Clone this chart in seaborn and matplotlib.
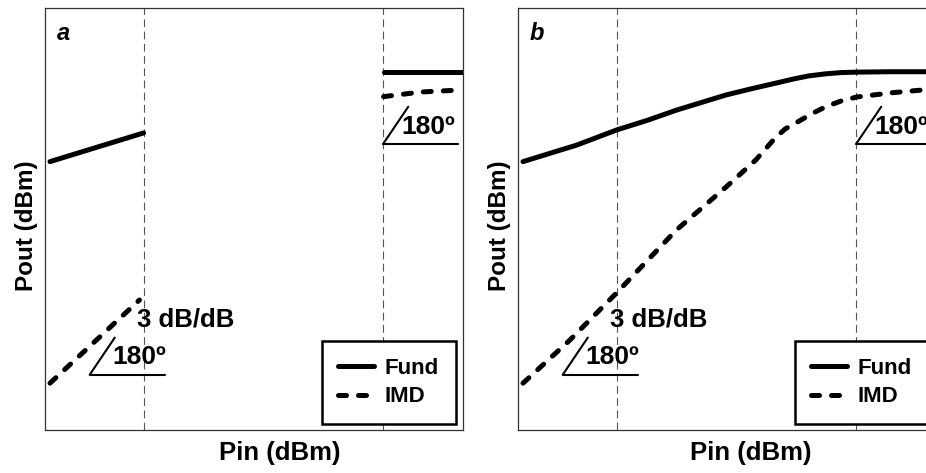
import numpy as np
import pandas as pd
import matplotlib
matplotlib.use("Agg")
import matplotlib.pyplot as plt
import seaborn as sns
from matplotlib.lines import Line2D

sns.set_theme(style="white")
plt.rcParams['font.family'] = ['Liberation Sans', 'DejaVu Sans']
plt.rcParams['font.weight'] = 'bold'
plt.rcParams['text.color'] = 'black'
plt.rcParams['axes.labelcolor'] = 'black'

# ---------------- data (arbitrary units) ----------------
# Panel a: linear asymptotes only
a_fund_low_x = [0.12, 2.36]
a_fund_low_y = [6.36, 7.04]
a_fund_high_x = [8.1, 10.0]
a_fund_high_y = [8.48, 8.48]
a_imd_low_x = [0.12, 2.26]
a_imd_low_y = [1.11, 3.08]
a_imd_high_x = [8.1, 9.0, 10.0]
a_imd_high_y = [7.90, 8.01, 8.06]

# Panel b: full curves
b_fund_x = [0.12, 1.40, 2.36, 3.10, 3.79, 4.98, 5.60, 6.17, 6.60, 6.95, 7.36, 7.74, 8.10, 8.93, 10.0]
b_fund_y = [6.36, 6.75, 7.11, 7.34, 7.58, 7.94, 8.09, 8.22, 8.32, 8.39, 8.44, 8.47, 8.48, 8.49, 8.49]
b_imd_x = [0.12, 1.24, 2.36, 3.79, 4.98, 5.69, 6.17, 6.40, 6.64, 7.00, 7.36, 7.74, 8.10, 8.93, 9.71, 10.0]
b_imd_y = [1.11, 2.13, 3.25, 4.74, 5.76, 6.40, 6.94, 7.14, 7.27, 7.48, 7.66, 7.80, 7.89, 7.99, 8.06, 8.07]

vlines_x = [2.36, 8.09]
series_names = ["Fund", "IMD"]

W, H = 926, 473
fig = plt.figure(figsize=(W / 100, H / 100), dpi=100)

def make_axes(left_px):
    return fig.add_axes([left_px / W, (H - 430) / H, 418 / W, 422 / H])

ax_a = make_axes(45)
ax_b = make_axes(518)

DASH = (1.6, 2.4)
fund_kw = dict(color="black", linewidth=3.6)
imd_kw = dict(color="black", linewidth=3.6)

def draw(ax, x, y, dashed):
    sns.lineplot(x=x, y=y, ax=ax, sort=False, estimator=None,
                 **(imd_kw if dashed else fund_kw))
    l = ax.get_lines()[-1]
    if dashed:
        l.set_dashes(DASH)
        l.set_dash_capstyle('round')
    else:
        l.set_solid_capstyle('round')
    l.set_solid_joinstyle('round')

def setup(ax, letter):
    for x in vlines_x:
        ax.axvline(x, color="#555555", linewidth=0.8, linestyle=(0, (7, 4)), zorder=1)
    ax.set_xlim(0, 10)
    ax.set_ylim(0, 10)
    ax.set_xticks([])
    ax.set_yticks([])
    for s in ax.spines.values():
        s.set_color("#333333")
        s.set_linewidth(0.9)
    ax.text(0.28, 9.4, letter, fontsize=17, fontweight="bold", fontstyle="italic",
            ha="left", va="center")
    ax.set_ylabel("Pout (dBm)", fontsize=17.5, fontweight="bold", labelpad=5)
    ax.yaxis.label.set_y(0.484)
    ax.set_xlabel("")
    # angle marks
    ax.plot([1.07, 2.86], [1.31, 1.31], color="black", lw=1.5)
    ax.plot([1.07, 1.67], [1.31, 2.19], color="black", lw=1.5)
    ax.text(1.6, 1.74, "180º", fontsize=19, fontweight="bold", ha="left", va="center")
    ax.plot([8.09, 9.88], [6.78, 6.78], color="black", lw=1.5)
    ax.plot([8.09, 8.69], [6.78, 7.66], color="black", lw=1.5)
    ax.text(8.52, 7.19, "180º", fontsize=19, fontweight="bold", ha="left", va="center")
    ax.text(2.2, 2.62, "3 dB/dB", fontsize=18.5, fontweight="bold", ha="left", va="center")
    h_fund = Line2D([], [], color="black", linewidth=3.6, solid_capstyle="round")
    h_imd = Line2D([], [], color="black", linewidth=3.6, dashes=DASH,
                   dash_capstyle="round")
    leg = ax.legend([h_fund, h_imd], series_names, loc="lower right",
                    bbox_to_anchor=(0.983, 0.014), borderaxespad=0,
                    fontsize=16, handlelength=1.6, handletextpad=0.5,
                    borderpad=0.75, labelspacing=0.35, fancybox=False,
                    frameon=True, edgecolor="black", framealpha=1)
    leg.get_frame().set_linewidth(1.8)
    for t in leg.get_texts():
        t.set_fontweight("bold")

draw(ax_a, a_fund_low_x, a_fund_low_y, False)
draw(ax_a, a_fund_high_x, a_fund_high_y, False)
draw(ax_a, a_imd_low_x, a_imd_low_y, True)
draw(ax_a, a_imd_high_x, a_imd_high_y, True)
setup(ax_a, "a")

draw(ax_b, b_fund_x, b_fund_y, False)
draw(ax_b, b_imd_x, b_imd_y, True)
setup(ax_b, "b")

fig.text(280 / W, 1 - 453 / H, "Pin (dBm)", fontsize=18.5, fontweight="bold",
         ha="center", va="center")
fig.text(751 / W, 1 - 453 / H, "Pin (dBm)", fontsize=18.5, fontweight="bold",
         ha="center", va="center")

fig.savefig("out.png", dpi=100)
